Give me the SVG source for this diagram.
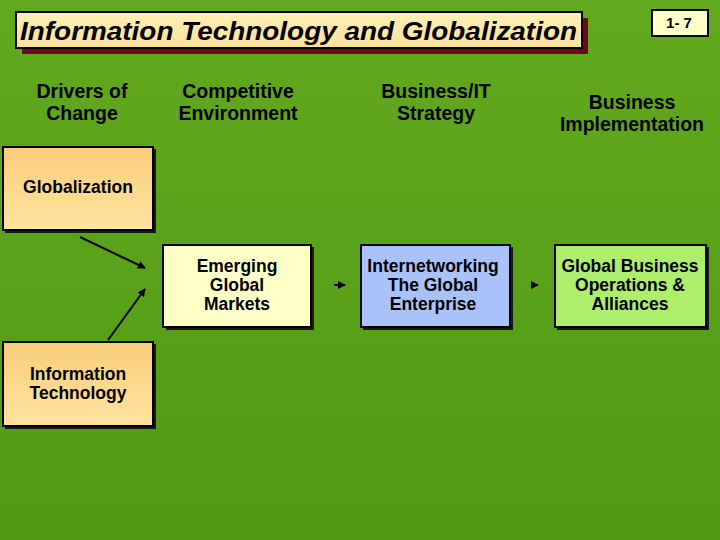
<svg xmlns="http://www.w3.org/2000/svg" width="720" height="540" viewBox="0 0 720 540">
<defs>
<linearGradient id="bg" x1="0" y1="0" x2="0" y2="1"><stop offset="0" stop-color="#63A91F"/><stop offset="1" stop-color="#4F9A12"/></linearGradient>
<linearGradient id="gold" x1="0" y1="0" x2="0" y2="1"><stop offset="0" stop-color="#F9CD7A"/><stop offset="1" stop-color="#FFE4A0"/></linearGradient>
<linearGradient id="title" x1="0" y1="0" x2="0" y2="1"><stop offset="0" stop-color="#FFF0B8"/><stop offset="1" stop-color="#FFE098"/></linearGradient>
<marker id="ah" viewBox="0 0 10 10" refX="9" refY="5" markerWidth="4" markerHeight="4" orient="auto"><path d="M0,0 L10,5 L0,10 z" fill="#000"/></marker>
</defs>
<style>
.hd{font-family:"Liberation Sans",Arial,sans-serif;font-weight:bold;font-size:19.5px;fill:#000;text-anchor:middle}
.nt{font-family:"Liberation Sans",Arial,sans-serif;font-weight:bold;font-size:17.5px;fill:#000;text-anchor:middle}
.box{stroke:#000;stroke-width:2}
.sh{fill:#1a1a1a}
.ln{stroke:#000;stroke-width:2;fill:none;marker-end:url(#ah)}
</style>
<rect width="720" height="540" fill="url(#bg)"/>
<g id="title-box">
<rect x="22" y="18" width="566" height="36" fill="#6B0A1A"/>
<rect x="16" y="12" width="566" height="36" fill="url(#title)" stroke="#000" stroke-width="2"/>
<text x="20" y="40" font-family="'Liberation Sans',Arial,sans-serif" font-weight="bold" font-style="italic" font-size="26" fill="#000" textLength="557" lengthAdjust="spacingAndGlyphs">Information Technology and Globalization</text>
</g>
<g id="page-num">
<rect x="652" y="10" width="56" height="26" fill="#FFFFC8" stroke="#000" stroke-width="2"/>
<text x="679" y="28" font-family="'Liberation Sans',Arial,sans-serif" font-weight="bold" font-size="15" fill="#000" text-anchor="middle">1- 7</text>
</g>
<g id="headers">
<text class="hd" x="82" y="98">Drivers of</text><text class="hd" x="82" y="120">Change</text>
<text class="hd" x="238" y="98">Competitive</text><text class="hd" x="238" y="120">Environment</text>
<text class="hd" x="436" y="98">Business/IT</text><text class="hd" x="436" y="120">Strategy</text>
<text class="hd" x="632" y="109">Business</text><text class="hd" x="632" y="131">Implementation</text>
</g>
<g id="globalization">
<rect class="sh" x="5" y="149" width="151" height="84"/>
<rect class="box" x="3" y="147" width="150" height="83" fill="url(#gold)"/>
<text class="nt" x="78" y="193">Globalization</text>
</g>
<g id="information-technology">
<rect class="sh" x="5" y="344" width="151" height="85"/>
<rect class="box" x="3" y="342" width="150" height="84" fill="url(#gold)"/>
<text class="nt" x="78" y="380">Information</text>
<text class="nt" x="78" y="399">Technology</text>
</g>
<g id="emerging-markets">
<rect class="sh" x="166" y="247" width="148" height="83"/>
<rect class="box" x="163" y="245" width="148" height="82" fill="#FFFFC8"/>
<text class="nt" x="237" y="272">Emerging</text>
<text class="nt" x="237" y="291">Global</text>
<text class="nt" x="237" y="310">Markets</text>
</g>
<g id="internetworking">
<rect class="sh" x="363" y="247" width="150" height="83"/>
<rect class="box" x="361" y="245" width="149" height="82" fill="#A9C3FA"/>
<text class="nt" x="433" y="272">Internetworking</text>
<text class="nt" x="433" y="291">The Global</text>
<text class="nt" x="433" y="310">Enterprise</text>
</g>
<g id="global-business">
<rect class="sh" x="557" y="247" width="152" height="83"/>
<rect class="box" x="555" y="245" width="151" height="82" fill="#ADEE6C"/>
<text class="nt" x="630" y="272">Global Business</text>
<text class="nt" x="630" y="291">Operations &amp;</text>
<text class="nt" x="630" y="310">Alliances</text>
</g>
<g id="connectors">
<line class="ln" x1="80" y1="237" x2="145" y2="268"/>
<line class="ln" x1="108" y1="340" x2="145" y2="289"/>
<line class="ln" x1="334" y1="285" x2="345" y2="285"/>
<line class="ln" x1="531" y1="285" x2="538" y2="285"/>
</g>
</svg>
